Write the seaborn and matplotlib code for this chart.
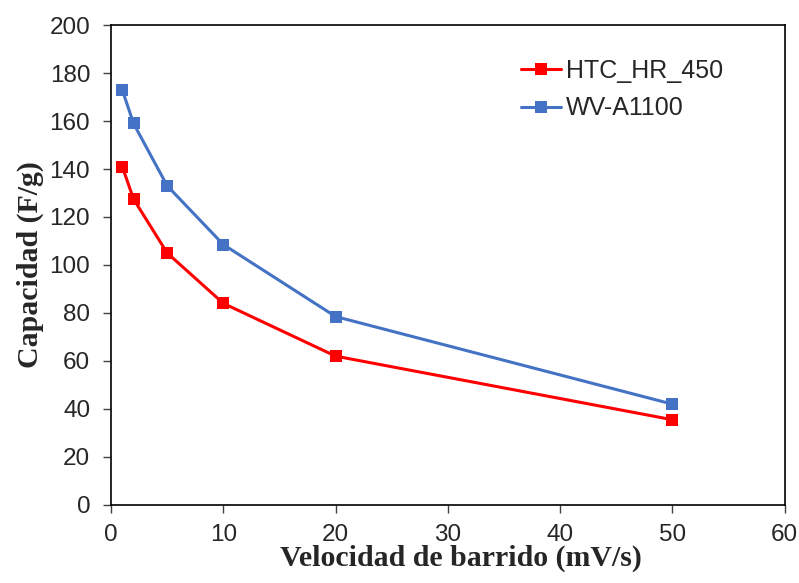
import matplotlib
matplotlib.use("Agg")
import matplotlib.pyplot as plt
import seaborn as sns
import pandas as pd

velocidad = [1, 2, 5, 10, 20, 50]
htc_hr_450 = [141, 127.5, 105, 84, 62, 35.5]
wv_a1100 = [173, 159, 133, 108.5, 78.5, 42]
series_names = ["HTC_HR_450", "WV-A1100"]
x_ticks = [0, 10, 20, 30, 40, 50, 60]
y_ticks = [0, 20, 40, 60, 80, 100, 120, 140, 160, 180, 200]

df = pd.DataFrame({
    "x": velocidad * 2,
    "y": htc_hr_450 + wv_a1100,
    "serie": [series_names[0]] * len(velocidad) + [series_names[1]] * len(velocidad),
})

sns.set_style("white")
plt.rcParams["font.family"] = ["Liberation Sans", "DejaVu Sans"]

fig = plt.figure(figsize=(7.99, 5.83), dpi=100)
ax = fig.add_axes([0.139, 0.134, 0.843, 0.823])

palette = {series_names[0]: "#FF0000", series_names[1]: "#4472C4"}
sns.lineplot(data=df, x="x", y="y", hue="serie", palette=palette, marker="s",
             markersize=8, markeredgewidth=0, linewidth=2.2, ax=ax)

ax.set_xlim(0, 60)
ax.set_ylim(0, 200)
ax.set_xticks(x_ticks)
ax.set_yticks(y_ticks)
ax.tick_params(axis="both", which="major", bottom=True, left=True, direction="out",
               length=6, width=1, labelsize=17.5, color="#404040", labelcolor="#262626")
ax.tick_params(axis="y", pad=9)
ax.tick_params(axis="x", pad=8)
for s in ax.spines.values():
    s.set_color("black")
    s.set_linewidth(1.2)

ax.set_xlabel("Velocidad de barrido (mV/s)", fontsize=21.5, fontweight="bold",
              family=["Liberation Serif"])
ax.xaxis.set_label_coords(0.52, -0.083)
ax.set_ylabel("Capacidad (F/g)", fontsize=21.5, fontweight="bold",
              family=["Liberation Serif"], labelpad=4)

leg = ax.legend(loc="upper left", bbox_to_anchor=(0.608, 0.93), frameon=False,
                borderpad=0, borderaxespad=0,
                fontsize=18, handlelength=1.6, handletextpad=0.2, labelspacing=0.55)

fig.savefig("out.png", dpi=100)
